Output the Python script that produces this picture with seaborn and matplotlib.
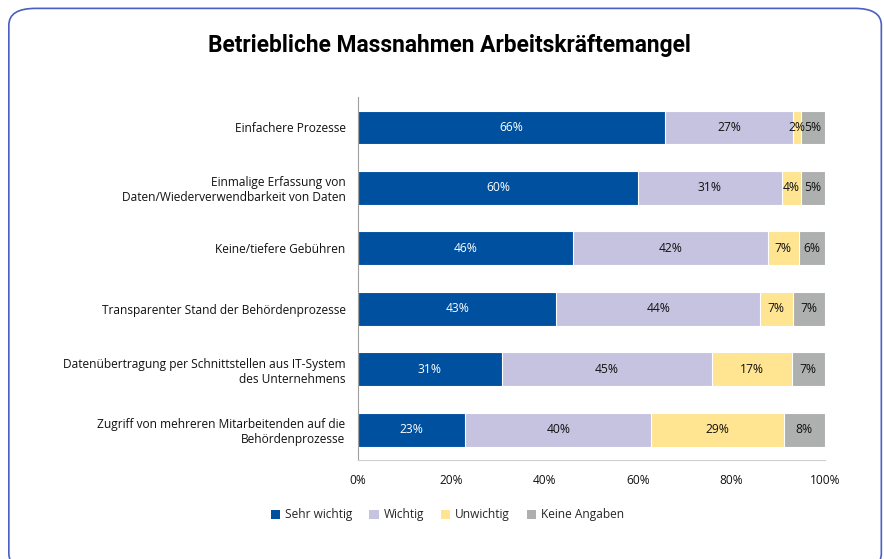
import seaborn as sns
import numpy as np
import matplotlib.pyplot as plt
import pandas as pd
from matplotlib.patches import FancyBboxPatch, Patch

categories = [
    "Einfachere Prozesse",
    "Einmalige Erfassung von\nDaten/Wiederverwendbarkeit von Daten",
    "Keine/tiefere Gebühren",
    "Transparenter Stand der Behördenprozesse",
    "Datenübertragung per Schnittstellen aus IT-System\ndes Unternehmens",
    "Zugriff von mehreren Mitarbeitenden auf die\nBehördenprozesse",
]
series = ["Sehr wichtig", "Wichtig", "Unwichtig", "Keine Angaben"]
sehr_wichtig = [65.8, 60.0, 46.0, 42.5, 30.8, 23.0]
wichtig = [27.4, 30.8, 41.8, 43.6, 45.1, 39.8]
unwichtig = [1.7, 4.0, 6.6, 7.0, 17.0, 28.4]
keine_angaben = [5.1, 5.2, 5.6, 6.9, 7.1, 8.8]
labels = [
    ["66%", "27%", "2%", "5%"],
    ["60%", "31%", "4%", "5%"],
    ["46%", "42%", "7%", "6%"],
    ["43%", "44%", "7%", "7%"],
    ["31%", "45%", "17%", "7%"],
    ["23%", "40%", "29%", "8%"],
]
colors = ["#0050a0", "#c5c3e0", "#ffe592", "#aeb0b0"]
text_colors = ["white", "#111111", "#111111", "#111111"]

df = pd.DataFrame(
    {
        "Kategorie": categories,
        "Sehr wichtig": sehr_wichtig,
        "Wichtig": wichtig,
        "Unwichtig": unwichtig,
        "Keine Angaben": keine_angaben,
    }
)
cum = df[series].cumsum(axis=1)

sns.set_style("white")
plt.rcParams["font.family"] = ["Open Sans", "DejaVu Sans"]

fig = plt.figure(figsize=(8.84, 5.59), dpi=100)
ax = fig.add_axes([0.405, 0.177, 0.528, 0.649])

# stacked bars: draw cumulative totals, largest first
for i in range(len(series) - 1, -1, -1):
    sns.barplot(
        x=cum[series[i]],
        y=df["Kategorie"],
        orient="h",
        color=colors[i],
        saturation=1,
        width=0.56,
        edgecolor="white",
        linewidth=0.8,
        ax=ax,
    )

for r in range(len(categories)):
    left = 0
    for i, s in enumerate(series):
        w = df.loc[r, s]
        ax.text(left + w / 2, r, labels[r][i], ha="center", va="center",
                fontsize=8.7, color=text_colors[i])
        left += w

ax.set_xlim(0, 100)
ax.set_ylim(5.5, -0.5)
ax.set_xticks([0, 20, 40, 60, 80, 100])
ax.set_xticklabels(["0%", "20%", "40%", "60%", "80%", "100%"])
ax.set_xlabel("")
ax.set_ylabel("")
ax.tick_params(axis="both", labelsize=8.6, length=0, colors="#111111")
ax.tick_params(axis="x", pad=10)
ax.tick_params(axis="y", pad=9)
for lab in ax.get_yticklabels():
    lab.set_horizontalalignment("right")

ax.spines["top"].set_visible(False)
ax.spines["right"].set_visible(False)
ax.spines["left"].set_color("#a0a0a0")
ax.spines["bottom"].set_color("#d0d0d0")
ax.grid(False)

handles = [Patch(facecolor=c, edgecolor="none") for c in colors]
fig.legend(handles, series, loc="center", bbox_to_anchor=(0.506, 0.079),
           ncol=4, frameon=False, fontsize=8.6, handlelength=0.8,
           handleheight=0.8, handletextpad=0.4, columnspacing=1.4)

fig.text(0.508, 0.918, "Betriebliche Massnahmen Arbeitskräftemangel",
         ha="center", va="center", fontsize=16.4, fontweight="bold",
         family=["Roboto", "DejaVu Sans"], color="black")

frame = FancyBboxPatch((0.010, -0.02), 0.987, 1.005,
                       boxstyle="round,pad=0,rounding_size=0.03",
                       transform=fig.transFigure, facecolor="none",
                       edgecolor="#4a5fc1", linewidth=1.2)
fig.patches.append(frame)

plt.savefig("out.png", dpi=100)
